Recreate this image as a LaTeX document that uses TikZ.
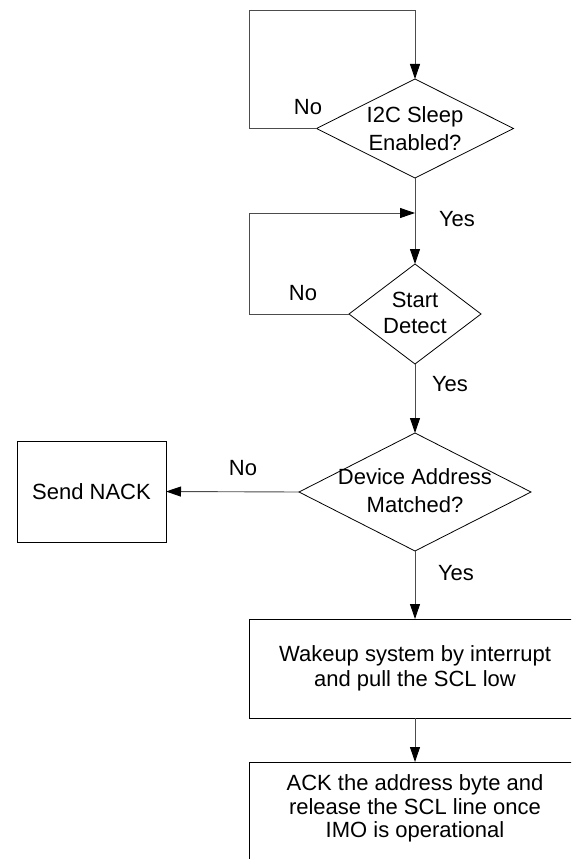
\documentclass[tikz,border=0pt]{standalone}
\usepackage{fontspec}
\setmainfont{Liberation Sans}
\usetikzlibrary{arrows.meta,shapes.geometric}
\begin{document}
\begin{tikzpicture}[x=1pt,y=-1pt,
  shapeline/.style={draw=black,line width=0.8pt},
  conn/.style={draw=black!70,line width=0.9pt},
  arr/.style={conn,-{Triangle[length=15pt,width=10pt,color=black]}},
  dia/.style={shapeline,diamond,inner sep=0pt,outer sep=0pt},
  boxn/.style={shapeline,rectangle,inner sep=0pt,outer sep=0pt,align=center},
  txt/.style={align=center,inner sep=0pt},
  lab/.style={font=\fontsize{22}{26}\selectfont,inner sep=0pt}]
\useasboundingbox (0,0) rectangle (571,859);
\clip (0,0) rectangle (571,859);
\fill[white] (0,0) rectangle (571,859);
% decisions
\node[dia,minimum width=197pt,minimum height=99pt] (d1) at (415,128.5) {};
\node[txt,font=\fontsize{22}{28}\selectfont] (t1) at (415,129) {I2C Sleep\\Enabled?};
\node[dia,minimum width=132pt,minimum height=100pt] (d2) at (415,314) {};
\node[txt,font=\fontsize{22}{26}\selectfont] (t2) at (415,313) {Start\\Detect};
\node[dia,minimum width=232pt,minimum height=118pt] (d3) at (415,492) {};
\node[txt,font=\fontsize{22}{28}\selectfont] (t3) at (415,491) {Device Address\\Matched?};
% boxes
\node[boxn,minimum width=149pt,minimum height=101pt,font=\fontsize{22}{26}\selectfont] (nack) at (91.5,491.5) {Send NACK};
\node[boxn,minimum width=332pt,minimum height=99pt,font=\fontsize{22}{25}\selectfont] (b1) at (415,668.5) {Wakeup system by interrupt\\and pull the SCL low};
\node[boxn,minimum width=332pt,minimum height=130pt] (b2) at (415,827) {};
\node[txt,font=\fontsize{22}{23.5}\selectfont] (t4) at (415,808.5) {ACK the address byte and\\release the SCL line once\\IMO is operational};
% loop coordinates
\coordinate (c1) at (249,10);
\coordinate (c2) at (249,213);
\coordinate (j2) at (415,213);
% connectors
\draw[arr] (d1.west) -| (c1) -| (d1.north);
\draw[arr] (d1.south) -- (d2.north);
\draw[arr] (d2.west) -| (c2) -- (j2);
\draw[arr] (d2.south) -- (d3.north);
\draw[arr] (d3.west) -- (nack.east);
\draw[arr] (d3.south) -- (b1.north);
\draw[arr] (b1.south) -- (b2.north);
% labels
\node[lab] (n1) at (308,107) {No};
\node[lab] (y1) at (457,219) {Yes};
\node[lab] (n2) at (303,293) {No};
\node[lab] (y2) at (450,384) {Yes};
\node[lab] (n3) at (243,468) {No};
\node[lab] (y3) at (456,573) {Yes};
\end{tikzpicture}
\end{document}
